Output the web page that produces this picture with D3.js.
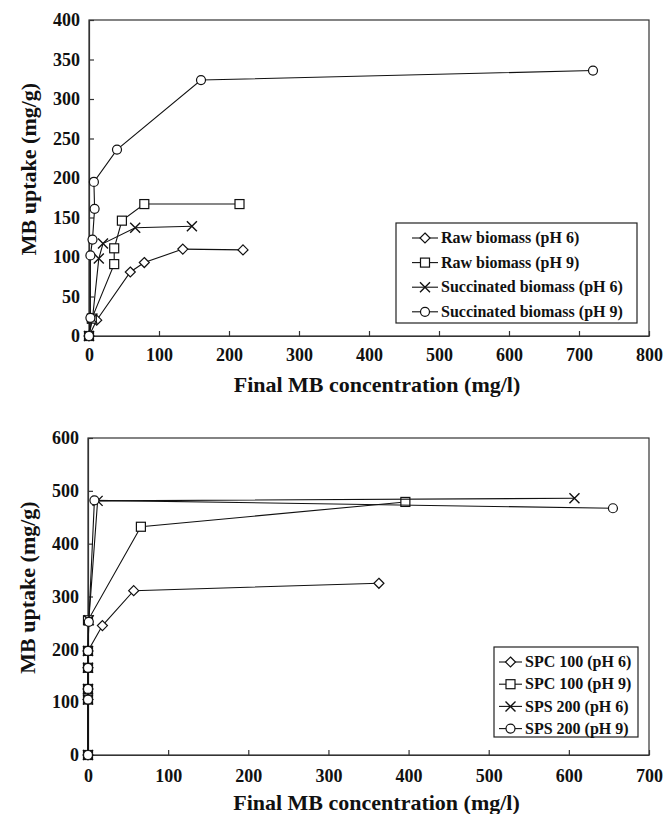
<!DOCTYPE html>
<html>
<head>
<meta charset="utf-8">
<script src="https://cdn.jsdelivr.net/npm/d3@7"></script>
<style>
  body { margin: 0; background: #fff; }
  svg text { font-family: 'Liberation Serif', 'DejaVu Serif', serif; font-weight: 700; fill: #111; }
</style>
</head>
<body>
<div id="chart"></div>
<script>
// top panel: raw vs succinated biomass
const topNames = ['Raw biomass (pH 6)', 'Raw biomass (pH 9)', 'Succinated biomass (pH 6)', 'Succinated biomass (pH 9)'];
const topRaw6X = [0, 11, 59, 79, 134, 220];
const topRaw6Y = [0, 20, 81, 93, 110, 109];
const topRaw9X = [0, 4, 36, 36, 47, 79, 215];
const topRaw9Y = [0, 22, 91, 111, 146, 167, 167];
const topSuc6X = [0, 5, 14, 20, 66, 147];
const topSuc6Y = [0, 22, 98, 117, 137, 139];
const topSuc9X = [0, 2, 2, 5, 8, 7, 40, 160, 720];
const topSuc9Y = [0, 23, 102, 122, 161, 195, 236, 324, 336];
const topXTicks = [0, 100, 200, 300, 400, 500, 600, 700, 800];
const topYTicks = [0, 50, 100, 150, 200, 250, 300, 350, 400];

// bottom panel: SPC / SPS
const botNames = ['SPC 100 (pH 6)', 'SPC 100 (pH 9)', 'SPS 200 (pH 6)', 'SPS 200 (pH 9)'];
const botSpc6X = [0, 0, 0, 0, 0, 18, 57, 363];
const botSpc6Y = [0, 105, 125, 165, 197, 245, 311, 325];
const botSpc9X = [0, 0, 0, 0, 0, 0, 66, 396];
const botSpc9Y = [0, 105, 125, 165, 197, 255, 432, 479];
const botSps6X = [0, 0, 0, 0, 0, 1, 12, 607];
const botSps6Y = [0, 105, 125, 165, 197, 255, 481, 486];
const botSps9X = [0, 0, 0, 0, 0, 1, 8, 655];
const botSps9Y = [0, 105, 125, 165, 197, 252, 482, 467];
const botXTicks = [0, 100, 200, 300, 400, 500, 600, 700];
const botYTicks = [0, 100, 200, 300, 400, 500, 600];

const markers = ['diamond', 'square', 'cross', 'circle'];
const serif = "'Liberation Serif', 'DejaVu Serif', serif";

const svg = d3.select('#chart').append('svg')
  .attr('width', 664)
  .attr('height', 814);

function drawMarker(g, type, cx, cy) {
  if (type === 'circle') {
    g.append('circle').attr('cx', cx).attr('cy', cy).attr('r', 4.5)
      .attr('fill', '#fff').attr('stroke', '#111').attr('stroke-width', 1.2);
  } else if (type === 'square') {
    g.append('rect').attr('x', cx - 4.5).attr('y', cy - 4.5).attr('width', 9).attr('height', 9)
      .attr('fill', '#fff').attr('stroke', '#111').attr('stroke-width', 1.2);
  } else if (type === 'diamond') {
    g.append('path').attr('d', `M${cx},${cy - 5}L${cx + 5},${cy}L${cx},${cy + 5}L${cx - 5},${cy}Z`)
      .attr('fill', '#fff').attr('stroke', '#111').attr('stroke-width', 1.2);
  } else {
    g.append('path').attr('d', `M${cx - 5},${cy - 5}L${cx + 5},${cy + 5}M${cx - 5},${cy + 5}L${cx + 5},${cy - 5}`)
      .attr('fill', 'none').attr('stroke', '#111').attr('stroke-width', 1.4);
  }
}

function drawPanel(p) {
  const x = d3.scaleLinear().domain(p.xDomain).range([p.left, p.right]);
  const y = d3.scaleLinear().domain(p.yDomain).range([p.bottom, p.top]);
  const g = svg.append('g');

  // frame
  g.append('rect')
    .attr('x', p.left).attr('y', p.top)
    .attr('width', p.right - p.left).attr('height', p.bottom - p.top)
    .attr('fill', 'none').attr('stroke', '#333').attr('stroke-width', 1.2);

  const xAxis = g.append('g')
    .attr('transform', `translate(0,${p.bottom})`)
    .call(d3.axisBottom(x).tickValues(p.xTicks).tickSizeInner(-5).tickSizeOuter(0).tickPadding(p.xPad));
  xAxis.selectAll('text').attr('dy', '0.71em');

  const yAxis = g.append('g')
    .attr('transform', `translate(${p.left},0)`)
    .call(d3.axisLeft(y).tickValues(p.yTicks).tickSizeInner(-5).tickSizeOuter(0).tickPadding(9));

  [xAxis, yAxis].forEach(a => {
    a.attr('font-family', serif).attr('font-size', 18).attr('font-weight', 700);
    a.select('.domain').attr('stroke', '#333').attr('stroke-width', 1.2);
    a.selectAll('line').attr('stroke', '#333').attr('stroke-width', 1.2);
    a.selectAll('text').attr('fill', '#111');
  });

  // axis titles
  g.append('text')
    .attr('x', (p.left + p.right) / 2 + 8)
    .attr('y', p.xTitleY)
    .attr('text-anchor', 'middle')
    .attr('font-size', 22)
    .text('Final MB concentration (mg/l)');
  g.append('text')
    .attr('transform', `translate(${p.yTitleX},${(p.top + p.bottom) / 2 - 9}) rotate(-90)`)
    .attr('text-anchor', 'middle')
    .attr('font-size', 22)
    .text('MB uptake (mg/g)');

  const line = d3.line().x(d => x(d[0])).y(d => y(d[1]));

  p.series.forEach((s, i) => {
    const pts = s.xs.map((v, j) => [v, s.ys[j]]);
    g.append('path')
      .attr('d', line(pts))
      .attr('fill', 'none')
      .attr('stroke', '#111')
      .attr('stroke-width', 1.1);
    const mg = g.append('g');
    pts.forEach(d => drawMarker(mg, markers[i], x(d[0]), y(d[1])));
  });

  // legend
  const L = p.legend;
  const lg = g.append('g');
  lg.append('rect')
    .attr('x', L.x).attr('y', L.y)
    .attr('width', L.w).attr('height', L.h)
    .attr('fill', '#fff').attr('stroke', '#222').attr('stroke-width', 1.2);
  p.names.forEach((name, i) => {
    const cy = L.y + L.first + i * L.step;
    const x0 = L.x + L.lineOff;
    lg.append('line')
      .attr('x1', x0).attr('x2', x0 + L.lineLen)
      .attr('y1', cy).attr('y2', cy)
      .attr('stroke', '#111').attr('stroke-width', 1.1);
    drawMarker(lg, markers[i], x0 + L.lineLen / 2, cy);
    lg.append('text')
      .attr('x', x0 + L.lineLen + 3)
      .attr('y', cy)
      .attr('dy', '0.33em')
      .attr('font-size', 16)
      .text(name);
  });

  g.selectAll('text').style('font-family', serif).style('font-weight', 700);
}

drawPanel({
  left: 89, right: 649, top: 20, bottom: 336,
  xDomain: [0, 800], yDomain: [0, 400],
  xTicks: topXTicks, yTicks: topYTicks, xPad: 12,
  xTitleY: 392, yTitleX: 36,
  names: topNames,
  series: [
    { xs: topRaw6X, ys: topRaw6Y },
    { xs: topRaw9X, ys: topRaw9Y },
    { xs: topSuc6X, ys: topSuc6Y },
    { xs: topSuc9X, ys: topSuc9Y }
  ],
  legend: { x: 396, y: 223, w: 241, h: 100, first: 15, step: 24.6, lineOff: 16, lineLen: 26 }
});

drawPanel({
  left: 88, right: 649, top: 438, bottom: 755,
  xDomain: [0, 700], yDomain: [0, 600],
  xTicks: botXTicks, yTicks: botYTicks, xPad: 14,
  xTitleY: 810, yTitleX: 35,
  names: botNames,
  series: [
    { xs: botSpc6X, ys: botSpc6Y },
    { xs: botSpc9X, ys: botSpc9Y },
    { xs: botSps6X, ys: botSps6Y },
    { xs: botSps9X, ys: botSps9Y }
  ],
  legend: { x: 494, y: 647, w: 144, h: 90, first: 15, step: 22.2, lineOff: 5, lineLen: 23 }
});
</script>
</body>
</html>
